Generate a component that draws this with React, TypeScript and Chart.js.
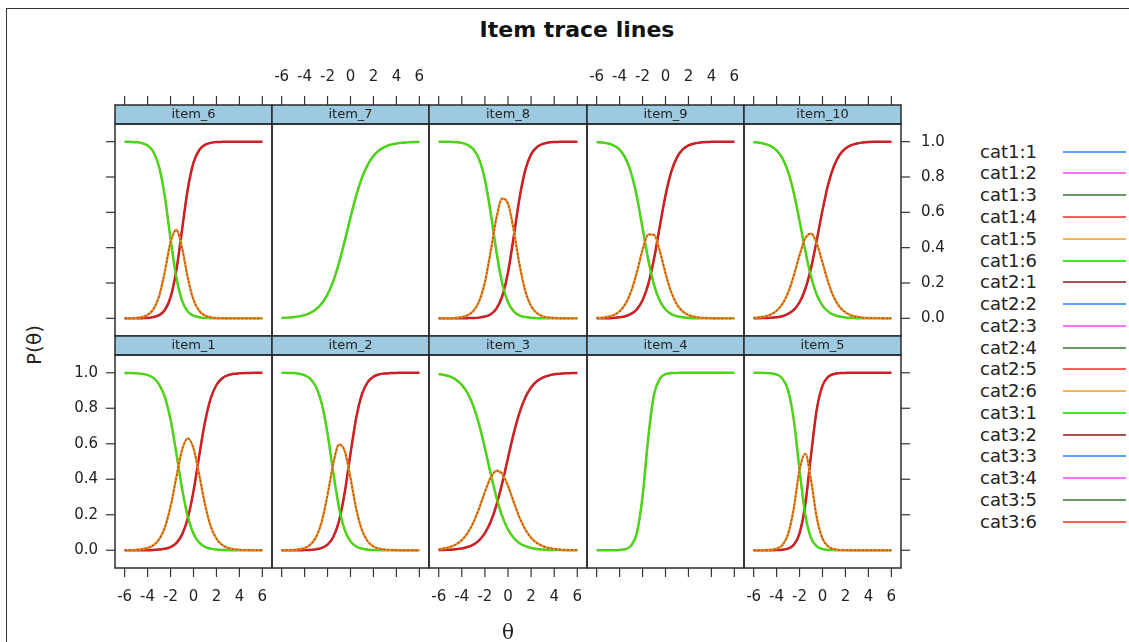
import React, { useEffect, useRef } from "react";
import { Chart, registerables } from "chart.js";

Chart.register(...registerables);

// ---------- data ----------
const THETA = [-6, -5.5, -5, -4.5, -4, -3.5, -3, -2.5, -2, -1.5, -1, -0.5, 0, 0.5, 1, 1.5, 2, 2.5, 3, 3.5, 4, 4.5, 5, 5.5, 6];

const ITEM1_CAT1 = [0.999, 0.999, 0.997, 0.994, 0.987, 0.971, 0.935, 0.864, 0.736, 0.549, 0.348, 0.19, 0.093, 0.043, 0.019, 0.009, 0.004, 0.002, 0.001, 0, 0, 0, 0, 0, 0];
const ITEM1_CAT2 = [0.001, 0.001, 0.003, 0.006, 0.013, 0.028, 0.061, 0.128, 0.246, 0.41, 0.564, 0.63, 0.574, 0.424, 0.259, 0.135, 0.065, 0.03, 0.013, 0.006, 0.003, 0.001, 0.001, 0, 0];
const ITEM1_CAT3 = [0, 0, 0, 0, 0, 0.001, 0.004, 0.008, 0.018, 0.04, 0.088, 0.18, 0.333, 0.533, 0.722, 0.856, 0.931, 0.969, 0.986, 0.994, 0.997, 0.999, 0.999, 1, 1];

const ITEM2_CAT1 = [1, 0.999, 0.998, 0.994, 0.986, 0.966, 0.92, 0.825, 0.657, 0.437, 0.24, 0.114, 0.05, 0.021, 0.009, 0.004, 0.001, 0.001, 0, 0, 0, 0, 0, 0, 0];
const ITEM2_CAT2 = [0, 0.001, 0.002, 0.006, 0.013, 0.032, 0.074, 0.162, 0.312, 0.488, 0.595, 0.559, 0.406, 0.233, 0.113, 0.05, 0.021, 0.009, 0.004, 0.002, 0.001, 0, 0, 0, 0];
const ITEM2_CAT3 = [0, 0, 0, 0, 0.001, 0.002, 0.005, 0.013, 0.032, 0.075, 0.165, 0.327, 0.545, 0.747, 0.879, 0.947, 0.978, 0.991, 0.996, 0.998, 0.999, 1, 1, 1, 1];

const ITEM3_CAT1 = [0.993, 0.987, 0.978, 0.961, 0.932, 0.885, 0.812, 0.707, 0.575, 0.431, 0.298, 0.192, 0.117, 0.069, 0.04, 0.023, 0.013, 0.007, 0.004, 0.002, 0.001, 0.001, 0, 0, 0];
const ITEM3_CAT2 = [0.006, 0.011, 0.019, 0.033, 0.057, 0.097, 0.156, 0.236, 0.329, 0.409, 0.448, 0.43, 0.362, 0.271, 0.184, 0.117, 0.07, 0.041, 0.024, 0.013, 0.008, 0.004, 0.002, 0.001, 0.001];
const ITEM3_CAT3 = [0.001, 0.002, 0.003, 0.006, 0.01, 0.018, 0.032, 0.056, 0.096, 0.16, 0.254, 0.378, 0.52, 0.66, 0.776, 0.861, 0.917, 0.952, 0.972, 0.984, 0.991, 0.995, 0.997, 0.998, 0.999];

const ITEM4_CAT2 = [0, 0, 0, 0, 0.002, 0.006, 0.026, 0.096, 0.302, 0.636, 0.877, 0.966, 0.992, 0.998, 0.999, 1, 1, 1, 1, 1, 1, 1, 1, 1, 1];

const ITEM5_CAT1 = [1, 1, 0.999, 0.997, 0.99, 0.968, 0.901, 0.733, 0.452, 0.199, 0.07, 0.022, 0.007, 0.002, 0.001, 0, 0, 0, 0, 0, 0, 0, 0, 0, 0];
const ITEM5_CAT2 = [0, 0, 0.001, 0.003, 0.009, 0.029, 0.09, 0.237, 0.453, 0.543, 0.394, 0.185, 0.066, 0.021, 0.006, 0.002, 0.001, 0, 0, 0, 0, 0, 0, 0, 0];
const ITEM5_CAT3 = [0, 0, 0, 0, 0.001, 0.003, 0.009, 0.031, 0.095, 0.258, 0.536, 0.793, 0.927, 0.977, 0.993, 0.998, 0.999, 1, 1, 1, 1, 1, 1, 1, 1];

const ITEM6_CAT1 = [1, 0.999, 0.997, 0.992, 0.978, 0.943, 0.858, 0.69, 0.45, 0.232, 0.1, 0.039, 0.015, 0.006, 0.002, 0.001, 0, 0, 0, 0, 0, 0, 0, 0, 0];
const ITEM6_CAT2 = [0, 0.001, 0.003, 0.007, 0.019, 0.051, 0.124, 0.263, 0.431, 0.5, 0.4, 0.23, 0.104, 0.042, 0.016, 0.006, 0.002, 0.001, 0, 0, 0, 0, 0, 0, 0];
const ITEM6_CAT3 = [0, 0, 0, 0.001, 0.002, 0.007, 0.018, 0.047, 0.119, 0.269, 0.5, 0.731, 0.881, 0.953, 0.982, 0.993, 0.998, 0.999, 1, 1, 1, 1, 1, 1, 1];

const ITEM7_CAT2 = [0.002, 0.004, 0.006, 0.011, 0.018, 0.031, 0.051, 0.084, 0.136, 0.211, 0.314, 0.439, 0.572, 0.695, 0.796, 0.869, 0.919, 0.951, 0.971, 0.983, 0.99, 0.994, 0.996, 0.998, 0.999];

const ITEM8_CAT1 = [1, 0.999, 0.999, 0.997, 0.993, 0.982, 0.957, 0.9, 0.785, 0.598, 0.377, 0.197, 0.091, 0.039, 0.016, 0.007, 0.003, 0.001, 0.001, 0, 0, 0, 0, 0, 0];
const ITEM8_CAT2 = [0, 0.001, 0.001, 0.003, 0.007, 0.017, 0.042, 0.096, 0.205, 0.379, 0.568, 0.678, 0.649, 0.497, 0.303, 0.154, 0.069, 0.03, 0.012, 0.005, 0.002, 0.001, 0, 0, 0];
const ITEM8_CAT3 = [0, 0, 0, 0, 0, 0.001, 0.002, 0.004, 0.01, 0.023, 0.055, 0.125, 0.26, 0.464, 0.681, 0.84, 0.928, 0.969, 0.987, 0.995, 0.998, 0.999, 1, 1, 1];

const ITEM9_CAT1 = [0.998, 0.995, 0.99, 0.978, 0.955, 0.908, 0.824, 0.689, 0.511, 0.331, 0.189, 0.099, 0.05, 0.024, 0.012, 0.006, 0.003, 0.001, 0.001, 0, 0, 0, 0, 0, 0];
const ITEM9_CAT2 = [0.002, 0.004, 0.009, 0.019, 0.04, 0.08, 0.151, 0.26, 0.387, 0.475, 0.473, 0.382, 0.255, 0.148, 0.078, 0.039, 0.019, 0.009, 0.004, 0.002, 0.001, 0, 0, 0, 0];
const ITEM9_CAT3 = [0, 0.001, 0.001, 0.003, 0.006, 0.012, 0.025, 0.051, 0.102, 0.194, 0.337, 0.519, 0.695, 0.829, 0.911, 0.956, 0.979, 0.99, 0.995, 0.998, 0.999, 1, 1, 1, 1];

const ITEM10_CAT1 = [0.997, 0.994, 0.987, 0.975, 0.951, 0.907, 0.83, 0.71, 0.552, 0.382, 0.236, 0.134, 0.072, 0.038, 0.019, 0.01, 0.005, 0.003, 0.001, 0.001, 0, 0, 0, 0, 0];
const ITEM10_CAT2 = [0.003, 0.006, 0.011, 0.022, 0.043, 0.081, 0.145, 0.242, 0.358, 0.453, 0.48, 0.424, 0.316, 0.204, 0.118, 0.064, 0.034, 0.017, 0.009, 0.004, 0.002, 0.001, 0.001, 0, 0];
const ITEM10_CAT3 = [0, 0.001, 0.002, 0.003, 0.006, 0.012, 0.025, 0.048, 0.091, 0.166, 0.284, 0.442, 0.612, 0.759, 0.862, 0.926, 0.961, 0.98, 0.99, 0.995, 0.998, 0.999, 0.999, 1, 1];

const X_TICKS = [-6, -4, -2, 0, 2, 4, 6];
const Y_TICKS = [0, 0.2, 0.4, 0.6, 0.8, 1.0];
const X_MIN = -6.84;
const X_MAX = 6.84;
const Y_MIN = -0.1;
const Y_MAX = 1.1;

const LEGEND_LABELS = [
  "cat1:1", "cat1:2", "cat1:3", "cat1:4", "cat1:5", "cat1:6",
  "cat2:1", "cat2:2", "cat2:3", "cat2:4", "cat2:5", "cat2:6",
  "cat3:1", "cat3:2", "cat3:3", "cat3:4", "cat3:5", "cat3:6",
];
const LEGEND_COLORS = ["#5aa2ff", "#ff70ff", "#649c64", "#ff5c5c", "#ffb547", "#33ee33", "#ab5252"];

type PanelDef = { name: string; row: number; col: number; series: number[][] };

const PANELS: PanelDef[] = [
  { name: "item_6", row: 0, col: 0, series: [ITEM6_CAT1, ITEM6_CAT2, ITEM6_CAT3] },
  { name: "item_7", row: 0, col: 1, series: [ITEM7_CAT2] },
  { name: "item_8", row: 0, col: 2, series: [ITEM8_CAT1, ITEM8_CAT2, ITEM8_CAT3] },
  { name: "item_9", row: 0, col: 3, series: [ITEM9_CAT1, ITEM9_CAT2, ITEM9_CAT3] },
  { name: "item_10", row: 0, col: 4, series: [ITEM10_CAT1, ITEM10_CAT2, ITEM10_CAT3] },
  { name: "item_1", row: 1, col: 0, series: [ITEM1_CAT1, ITEM1_CAT2, ITEM1_CAT3] },
  { name: "item_2", row: 1, col: 1, series: [ITEM2_CAT1, ITEM2_CAT2, ITEM2_CAT3] },
  { name: "item_3", row: 1, col: 2, series: [ITEM3_CAT1, ITEM3_CAT2, ITEM3_CAT3] },
  { name: "item_4", row: 1, col: 3, series: [ITEM4_CAT2] },
  { name: "item_5", row: 1, col: 4, series: [ITEM5_CAT1, ITEM5_CAT2, ITEM5_CAT3] },
];

// ---------- layout / style ----------
const GRID_LEFT = 115;
const GRID_RIGHT = 901;
const NCOL = 5;
const ROWS = [
  { top: 124, bottom: 336 },
  { top: 355, bottom: 568 },
];
const STRIP_H = 19;
const TICK = 9;
const PAD = { left: 60, right: 60, top: 70, bottom: 50 };
const FONT = "'DejaVu Sans', 'Liberation Sans', sans-serif";
const FRAME_COL = "#2a2a2a";
const STRIP_BG = "#9ecae1";

function curve(vals: number[], color: string, width: number, order: number, dash?: number[]) {
  return {
    data: THETA.map((t, i) => ({ x: t, y: vals[i] })),
    borderColor: color,
    borderWidth: width,
    borderDash: dash || [],
    pointRadius: 0,
    fill: false,
    cubicInterpolationMode: "monotone" as const,
    order,
  };
}

function buildDatasets(series: number[][]) {
  if (series.length === 1) {
    return [
      curve(series[0], "#30e60c", 1.5, 0),
      curve(series[0], "rgba(110,160,10,0.85)", 2.5, 1),
    ];
  }
  return [
    curve(series[1], "rgba(150,65,30,0.8)", 1.4, 0, [2, 2]),
    curve(series[1], "#f48e1e", 2.3, 1),
    curve(series[0], "#30e60c", 1.5, 2),
    curve(series[0], "rgba(110,160,10,0.85)", 2.5, 3),
    curve(series[2], "#e01c20", 1.5, 4),
    curve(series[2], "#a3262a", 2.5, 5),
  ];
}

function latticePlugin(p: PanelDef) {
  return {
    id: "lattice_" + p.name,
    afterDraw(chart: any) {
      const { ctx, chartArea: a } = chart;
      const xs = chart.scales.x;
      const ys = chart.scales.y;
      const w = a.right - a.left;
      const h = a.bottom - a.top;
      ctx.save();
      // strip
      ctx.fillStyle = STRIP_BG;
      ctx.fillRect(a.left, a.top - STRIP_H, w, STRIP_H);
      ctx.strokeStyle = FRAME_COL;
      ctx.lineWidth = 1.5;
      ctx.strokeRect(a.left, a.top - STRIP_H, w, STRIP_H);
      ctx.fillStyle = "#222";
      ctx.font = "13px " + FONT;
      ctx.textAlign = "center";
      ctx.textBaseline = "middle";
      ctx.fillText(p.name, (a.left + a.right) / 2, a.top - STRIP_H / 2);
      // panel border
      ctx.strokeRect(a.left, a.top, w, h);

      ctx.strokeStyle = "#333";
      ctx.lineWidth = 1.2;
      ctx.fillStyle = "#222";
      ctx.font = "15px " + FONT;

      const top = p.row === 0;
      const bottom = p.row === 1;
      // x ticks
      if (top || bottom) {
        const y0 = top ? a.top - STRIP_H - TICK : a.bottom;
        const y1 = top ? a.top - STRIP_H : a.bottom + TICK;
        const showLab = top ? p.col % 2 === 1 : p.col % 2 === 0;
        for (const t of X_TICKS) {
          const px = xs.getPixelForValue(t);
          ctx.beginPath();
          ctx.moveTo(px, y0);
          ctx.lineTo(px, y1);
          ctx.stroke();
          if (showLab) {
            ctx.textAlign = "center";
            ctx.textBaseline = "middle";
            const ly = top ? y0 - 19 : y1 + 20;
            ctx.fillText(String(t), px, ly);
          }
        }
      }
      // y ticks
      if (p.col === 0) {
        for (const v of Y_TICKS) {
          const py = ys.getPixelForValue(v);
          ctx.beginPath();
          ctx.moveTo(a.left - TICK, py);
          ctx.lineTo(a.left, py);
          ctx.stroke();
          if (bottom) {
            ctx.textAlign = "right";
            ctx.textBaseline = "middle";
            ctx.fillText(v.toFixed(1), a.left - TICK - 8, py);
          }
        }
      }
      if (p.col === NCOL - 1) {
        for (const v of Y_TICKS) {
          const py = ys.getPixelForValue(v);
          ctx.beginPath();
          ctx.moveTo(a.right, py);
          ctx.lineTo(a.right + TICK, py);
          ctx.stroke();
          if (top) {
            ctx.textAlign = "left";
            ctx.textBaseline = "middle";
            ctx.fillText(v.toFixed(1), a.right + TICK + 11, py);
          }
        }
      }
      ctx.restore();
    },
  };
}

function Panel({ p }: { p: PanelDef }) {
  const ref = useRef<HTMLCanvasElement>(null);
  const colW = (GRID_RIGHT - GRID_LEFT) / NCOL;
  const L = Math.round(GRID_LEFT + colW * p.col);
  const R = Math.round(GRID_LEFT + colW * (p.col + 1));
  const T = ROWS[p.row].top;
  const B = ROWS[p.row].bottom;
  const W = R - L + PAD.left + PAD.right;
  const H = B - T + PAD.top + PAD.bottom;

  useEffect(() => {
    if (!ref.current) return;
    const chart = new Chart(ref.current, {
      type: "line",
      data: { datasets: buildDatasets(p.series) as any },
      options: {
        responsive: false,
        maintainAspectRatio: false,
        animation: false,
        devicePixelRatio: 1,
        events: [],
        layout: { padding: PAD },
        plugins: {
          legend: { display: false },
          tooltip: { enabled: false },
          title: { display: false },
        },
        scales: {
          x: { type: "linear", min: X_MIN, max: X_MAX, display: false },
          y: { type: "linear", min: Y_MIN, max: Y_MAX, display: false },
        },
      } as any,
      plugins: [latticePlugin(p)],
    });
    return () => chart.destroy();
  }, []);

  return (
    <canvas
      ref={ref}
      width={W}
      height={H}
      style={{ position: "absolute", left: L - PAD.left, top: T - PAD.top, width: W, height: H }}
    />
  );
}

export default function App() {
  return (
    <div
      style={{
        position: "absolute",
        left: 0,
        top: 0,
        width: 1129,
        height: 642,
        overflow: "hidden",
        background: "#fff",
        fontFamily: FONT,
        color: "#222",
      }}
    >
      <div
        style={{
          position: "absolute",
          left: 6,
          top: 8,
          width: 1300,
          height: 800,
          borderLeft: "1px solid #333",
          borderTop: "1px solid #333",
        }}
      />
      <div
        style={{
          position: "absolute",
          left: 377,
          top: 16,
          width: 400,
          textAlign: "center",
          fontSize: 22,
          lineHeight: "28px",
          fontWeight: "bold",
          color: "#111",
        }}
      >
        Item trace lines
      </div>
      {PANELS.map((p) => (
        <Panel key={p.name} p={p} />
      ))}
      <div
        style={{
          position: "absolute",
          left: 34,
          top: 345,
          transform: "translate(-50%, -50%) rotate(-90deg)",
          fontSize: 20,
          whiteSpace: "nowrap",
          lineHeight: "24px",
        }}
      >
        P(θ)
      </div>
      <div
        style={{
          position: "absolute",
          left: 508,
          top: 632,
          transform: "translate(-50%, -50%)",
          fontSize: 20,
          fontFamily: "'DejaVu Serif', serif",
          lineHeight: "24px",
        }}
      >
        θ
      </div>
      {LEGEND_LABELS.map((lab, i) => {
        const cy = 151.7 + i * 21.76;
        return (
          <React.Fragment key={lab}>
            <div
              style={{
                position: "absolute",
                left: 980,
                top: cy - 12,
                fontSize: 18,
                lineHeight: "24px",
                whiteSpace: "nowrap",
              }}
            >
              {lab}
            </div>
            <div
              style={{
                position: "absolute",
                left: 1063,
                top: cy - 1,
                width: 63,
                height: 2,
                background: LEGEND_COLORS[i % LEGEND_COLORS.length],
              }}
            />
          </React.Fragment>
        );
      })}
    </div>
  );
}
